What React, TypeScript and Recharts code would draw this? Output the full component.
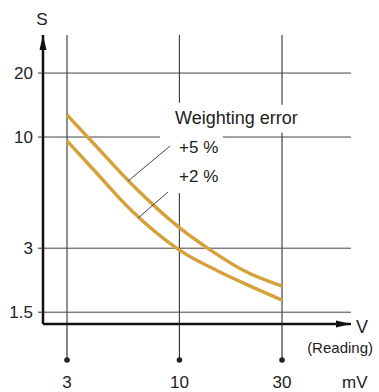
import {
  Label,
  Line,
  LineChart,
  ReferenceDot,
  ReferenceLine,
  XAxis,
  YAxis,
} from "recharts";

// readings in mV, times in S (log-log)
const readings = [3, 4, 6, 10, 15, 20, 30];
const plus5 = [12.7, 9.3, 6.0, 3.75, 2.8, 2.35, 1.99];
const plus2 = [9.6, 7.0, 4.5, 2.94, 2.35, 2.05, 1.71];
const xTicks = [3, 10, 30];
const yTicks = [1.5, 3, 10, 20];

const X_DOMAIN: [number, number] = [2.32, 62.8];
const Y_DOMAIN: [number, number] = [1.32, 30.2];

const data = readings.map((v, i) => ({ v, plus5: plus5[i], plus2: plus2[i] }));

const FONT = '"Liberation Sans", Arial, sans-serif';
const INK = "#222";
const GOLD = "#D5A23A";
const GRID = "#444";

// grid pieces, with gaps left open for the "Weighting error" note
const hGrid: [number, number, number][] = [
  [20, X_DOMAIN[0], X_DOMAIN[1]],
  [10, X_DOMAIN[0], 8.12],
  [10, 15.9, X_DOMAIN[1]],
  [3, X_DOMAIN[0], X_DOMAIN[1]],
  [1.5, X_DOMAIN[0], X_DOMAIN[1]],
];
const vGrid: [number, number, number][] = [
  [3, Y_DOMAIN[0], Y_DOMAIN[1]],
  [10, Y_DOMAIN[0], 5.45],
  [10, 14.5, Y_DOMAIN[1]],
  [30, Y_DOMAIN[0], 10.5],
  [30, 14.2, Y_DOMAIN[1]],
];

const XTick = (props: any) => {
  const { x, y, payload } = props;
  return (
    <g>
      <line x1={x} y1={y} x2={x} y2={y + 36} stroke="#333" strokeWidth={1.2} />
      <circle cx={x} cy={y + 36} r={2.8} fill={INK} />
      <text x={x} y={y + 64} textAnchor="middle" fontSize={17} fill={INK} fontFamily={FONT}>
        {payload.value}
      </text>
    </g>
  );
};

const noteText = (value: string, size: number) => (props: any) => (
  <text x={props.cx} y={props.cy} fontSize={size} fill={INK} fontFamily={FONT}>
    {value}
  </text>
);

export default function App() {
  return (
    <div style={{ position: "absolute", left: 0, top: 0, background: "#fff" }}>
      <LineChart
        width={379}
        height={392}
        data={data}
        margin={{ top: 35, right: 28, left: 0, bottom: 0 }}
      >
        <XAxis
          dataKey="v"
          type="number"
          scale="log"
          domain={X_DOMAIN}
          ticks={xTicks}
          allowDataOverflow
          height={68}
          tickSize={0}
          tickMargin={0}
          tickLine={false}
          axisLine={{ stroke: "#111", strokeWidth: 2.5 }}
          tick={(p: any) => <XTick {...p} />}
        >
          <Label
            content={(p: any) => {
              const vb = p.viewBox;
              const ex = vb.x + vb.width;
              return (
                <g fontFamily={FONT} fill={INK}>
                  <polygon points={`${ex},${vb.y} ${ex - 15},${vb.y - 3.5} ${ex - 15},${vb.y + 3.5}`} fill="#111" />
                  <text x={ex + 5} y={vb.y + 9} fontSize={18}>V</text>
                  <text x={ex + 22} y={vb.y + 29} fontSize={15} textAnchor="end">(Reading)</text>
                  <text x={ex - 9} y={vb.y + 64} fontSize={17}>mV</text>
                </g>
              );
            }}
          />
        </XAxis>
        <YAxis
          type="number"
          scale="log"
          domain={Y_DOMAIN}
          ticks={yTicks}
          allowDataOverflow
          width={43}
          tickSize={5}
          tickMargin={5}
          tickLine={{ stroke: "#333" }}
          axisLine={{ stroke: "#111", strokeWidth: 2.5 }}
          tick={{ fontSize: 17, fill: INK, fontFamily: FONT }}
        >
          <Label
            content={(p: any) => {
              const vb = p.viewBox;
              const ex = vb.x + vb.width;
              return (
                <g fontFamily={FONT} fill={INK}>
                  <polygon points={`${ex},${vb.y} ${ex - 3.5},${vb.y + 15} ${ex + 3.5},${vb.y + 15}`} fill="#111" />
                  <text x={ex - 1} y={vb.y - 10} fontSize={17} textAnchor="middle">S</text>
                </g>
              );
            }}
          />
        </YAxis>

        {hGrid.map(([y, a, b], i) => (
          <ReferenceLine
            key={`h${i}`}
            segment={[{ x: a, y }, { x: b, y }]}
            ifOverflow="visible"
            stroke={GRID}
            strokeWidth={1}
          />
        ))}
        {vGrid.map(([x, a, b], i) => (
          <ReferenceLine
            key={`v${i}`}
            segment={[{ x, y: a }, { x, y: b }]}
            ifOverflow="visible"
            stroke={GRID}
            strokeWidth={1.2}
          />
        ))}

        <Line
          dataKey="plus5"
          type="monotone"
          stroke={GOLD}
          strokeWidth={3.4}
          dot={false}
          isAnimationActive={false}
        />
        <Line
          dataKey="plus2"
          type="monotone"
          stroke={GOLD}
          strokeWidth={3.4}
          dot={false}
          isAnimationActive={false}
        />

        <ReferenceLine segment={[{ x: 9.04, y: 9.07 }, { x: 5.77, y: 6.21 }]} stroke={GRID} strokeWidth={1} />
        <ReferenceLine segment={[{ x: 8.85, y: 5.51 }, { x: 6.42, y: 4.16 }]} stroke={GRID} strokeWidth={1} />

        <ReferenceDot x={9.54} y={11.5} r={0} shape={noteText("Weighting error", 18)} />
        <ReferenceDot x={9.96} y={8.41} r={0} shape={noteText("+5 %", 17)} />
        <ReferenceDot x={9.96} y={6.14} r={0} shape={noteText("+2 %", 17)} />
      </LineChart>
    </div>
  );
}
